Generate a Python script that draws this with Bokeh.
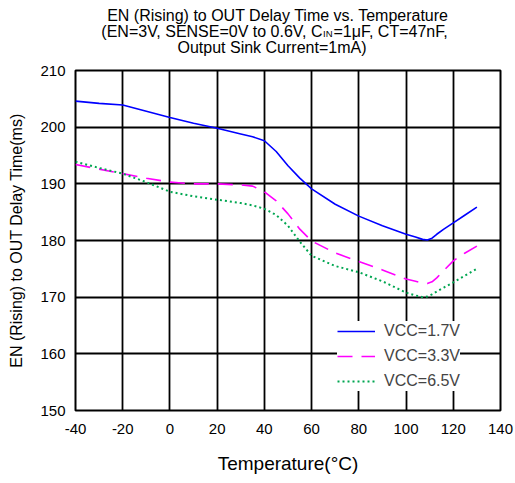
from bokeh.plotting import figure
from bokeh.models import Range1d, FixedTicker, Legend, LegendItem
from bokeh.layouts import column
from bokeh.core.properties import value
from bokeh.embed import file_html
from bokeh.resources import INLINE

# ---- data ----
temp = [-40, -30, -20, -10, 0, 10, 20, 30, 35, 40, 45, 50, 55, 60, 70, 80, 90,
        100, 104, 107, 109, 111, 113, 116, 120, 125, 130]
vcc_1_7 = [204.6, 204.2, 203.9, 202.8, 201.7, 200.7, 199.8, 198.8, 198.3, 197.6, 195.7, 193.2, 191.0, 189.1,
           186.4, 184.3, 182.6, 181.1, 180.6, 180.2, 180.1, 180.4, 181.1, 182.0, 183.1, 184.5, 185.9]
vcc_3_3 = [193.4, 192.6, 191.8, 191.0, 190.3, 190.0, 190.0, 189.8, 189.6, 188.6, 187.0, 184.7, 182.0, 179.9,
           177.8, 176.3, 174.8, 173.2, 172.8, 172.5, 172.4, 172.7, 173.4, 174.7, 176.4, 177.8, 179.0]
vcc_6_5 = [193.9, 192.8, 191.8, 190.3, 188.6, 187.8, 187.2, 186.6, 186.2, 185.6, 184.5, 182.6, 179.8, 177.3,
           175.5, 174.4, 172.8, 170.8, 170.3, 170.0, 170.1, 170.5, 171.0, 171.7, 172.6, 173.8, 175.0]
series_names = ["VCC=1.7V", "VCC=3.3V", "VCC=6.5V"]
x_ticks = [-40, -20, 0, 20, 40, 60, 80, 100, 120, 140]
y_ticks = [150, 160, 170, 180, 190, 200, 210]
title_line1 = "EN (Rising) to OUT Delay Time vs. Temperature"
title_line2a = "(EN=3V, SENSE=0V to 0.6V, C"
title_line2sub = "IN"
title_line2b = "=1\u03bcF, CT=47nF,"
title_line3 = "Output Sink Current=1mA)"
x_label = "Temperature(\u00b0C)"
y_label = "EN (Rising) to OUT Delay Time(ms)"

FONT = "Liberation Sans"
W = 515
TITLE_H = 60
FRAME_L, FRAME_R = 75, 500

# ---- title strip: column layout aligns its frame with the chart frame (75..500 px),
#      so the x range is set in page pixels ----
tf = figure(width=W, height=TITLE_H, output_backend="svg", toolbar_location=None,
            x_range=Range1d(FRAME_L, FRAME_R), y_range=Range1d(TITLE_H, 0),
            x_axis_type=None, y_axis_type=None, min_border=0)
tf.outline_line_color = None
tf.background_fill_color = "white"
tf.border_fill_color = "white"
tf.grid.visible = False
tkw = dict(text_font=value(FONT), text_font_size="16px", text_color="black", text_baseline="middle")
tf.text(x=[277.5], y=[14.5], text=[title_line1], text_align="center", **tkw)
tf.text(x=[322], y=[30.5], text=[title_line2a], text_align="right", **tkw)
tf.text(x=[322.5], y=[32.5], text=[title_line2sub], text_align="left", text_font=value(FONT),
        text_font_size="9.5px", text_color="black", text_baseline="middle")
tf.text(x=[333], y=[30.5], text=[title_line2b], text_align="left", **tkw)
tf.text(x=[271.5], y=[47], text=[title_line3], text_align="center", **tkw)

# ---- main chart ----
p = figure(width=W, height=483 - TITLE_H, output_backend="svg", toolbar_location=None,
           x_range=Range1d(-40, 140), y_range=Range1d(150, 210),
           min_border_left=FRAME_L, min_border_right=W - FRAME_R, min_border_top=10, min_border_bottom=73)
p.background_fill_color = "white"
p.border_fill_color = "white"
p.outline_line_color = "black"
p.outline_line_width = 2

for ax in (p.xaxis[0], p.yaxis[0]):
    ax.axis_line_color = None
    ax.major_tick_line_color = None
    ax.minor_tick_line_color = None
    ax.major_tick_out = 0
    ax.major_tick_in = 0
    ax.minor_tick_out = 0
    ax.major_label_text_font = FONT
    ax.major_label_text_font_size = "15px"
    ax.major_label_text_color = "black"
    ax.axis_label_text_font = FONT
    ax.axis_label_text_font_style = "normal"
    ax.axis_label_text_color = "black"

p.xaxis.ticker = FixedTicker(ticks=x_ticks)
p.yaxis.ticker = FixedTicker(ticks=y_ticks)
p.xaxis.major_label_overrides = {t: str(t) for t in x_ticks}
p.yaxis.major_label_overrides = {t: str(t) for t in y_ticks}
p.xaxis.major_label_standoff = 13
p.yaxis.major_label_standoff = 10
p.xaxis.axis_label = x_label
p.yaxis.axis_label = y_label
p.xaxis.axis_label_text_font_size = "19px"
p.yaxis.axis_label_text_font_size = "16px"
p.xaxis.axis_label_standoff = 16
p.yaxis.axis_label_standoff = 12

p.xgrid.ticker = FixedTicker(ticks=x_ticks)
p.ygrid.ticker = FixedTicker(ticks=y_ticks)
for g in (p.xgrid[0], p.ygrid[0]):
    g.grid_line_color = "black"
    g.grid_line_width = 1.8

r1 = p.line(temp, vcc_1_7, line_color="#0000FF", line_width=1.6)
r2 = p.line(temp, vcc_3_3, line_color="#FF00FF", line_width=1.6, line_dash="15 9")
r3 = p.line(temp, vcc_6_5, line_color="#00A651", line_width=2, line_dash="2 3")

legend = Legend(items=[LegendItem(label=series_names[0], renderers=[r1]),
                       LegendItem(label=series_names[1], renderers=[r2]),
                       LegendItem(label=series_names[2], renderers=[r3])],
                location=(262, 19), border_line_color=None, background_fill_color="white",
                background_fill_alpha=1.0, label_text_font=FONT, label_text_font_size="16px",
                glyph_width=38, glyph_height=20, label_height=20, label_standoff=9,
                spacing=5, padding=2, margin=0)
p.add_layout(legend, "center")

layout = column(tf, p, spacing=0)
open("out.html", "w").write(file_html(layout, INLINE))
